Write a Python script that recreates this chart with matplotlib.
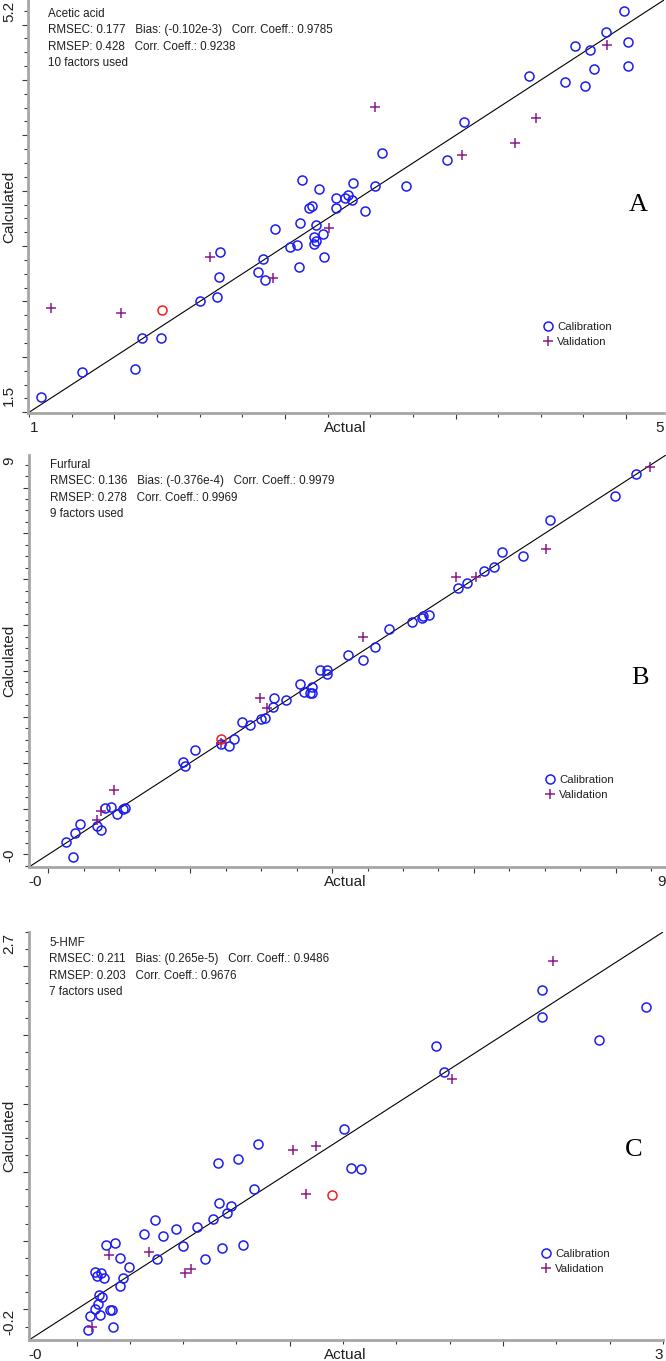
import matplotlib
matplotlib.use('Agg')
import matplotlib.pyplot as plt
from matplotlib.ticker import MultipleLocator

plt.rcParams['font.family'] = ['Liberation Sans', 'DejaVu Sans']

# ---- data ----
acetic_cal_x = [1.57, 1.81, 2.12, 2.16, 2.27, 2.50, 2.60, 2.61, 2.62, 2.84, 2.87, 2.88, 2.94,
                3.03, 3.07, 3.08, 3.09, 3.10, 3.14, 3.16, 3.17, 3.17, 3.18, 3.18, 3.20, 3.22,
                3.23, 3.30, 3.30, 3.35, 3.37, 3.39, 3.40, 3.47, 3.53, 3.57, 3.71, 3.95, 4.05,
                4.43, 4.64, 4.70, 4.76, 4.79, 4.81, 4.88, 4.99, 5.01, 5.01]
acetic_cal_y = [1.64, 1.86, 1.89, 2.17, 2.17, 2.50, 2.54, 2.72, 2.95, 2.77, 2.88, 2.69, 3.15,
                2.99, 3.01, 2.81, 3.21, 3.60, 3.34, 3.36, 3.08, 3.02, 3.05, 3.19, 3.52, 3.11,
                2.90, 3.43, 3.34, 3.43, 3.46, 3.42, 3.57, 3.32, 3.54, 3.84, 3.54, 3.78, 4.12,
                4.54, 4.48, 4.81, 4.45, 4.77, 4.60, 4.93, 5.12, 4.84, 4.63]
acetic_val_x = [1.63, 2.04, 2.56, 2.93, 3.26, 3.53, 4.04, 4.35, 4.47, 4.89]
acetic_val_y = [2.44, 2.40, 2.90, 2.71, 3.16, 4.26, 3.82, 3.93, 4.16, 4.82]
acetic_mark_x = [2.28]
acetic_mark_y = [2.42]

furfural_cal_x = [0.24, 0.35, 0.37, 0.45, 0.69, 0.74, 0.79, 0.88, 0.96, 1.05, 1.08, 1.90, 1.92,
                  2.07, 2.43, 2.55, 2.61, 2.73, 2.84, 3.00, 3.06, 3.18, 3.17, 3.35, 3.55, 3.60,
                  3.69, 3.72, 3.72, 3.83, 3.93, 3.93, 4.23, 4.43, 4.60, 4.80, 5.13, 5.27, 5.28,
                  5.37, 5.78, 5.90, 6.14, 6.29, 6.39, 6.70, 7.08, 7.99, 8.29]
furfural_cal_y = [0.26, -0.06, 0.47, 0.67, 0.62, 0.54, 1.01, 1.04, 0.88, 0.99, 1.01, 2.01, 1.93,
                  2.28, 2.41, 2.37, 2.51, 2.89, 2.82, 2.96, 2.98, 3.40, 3.22, 3.37, 3.71, 3.55,
                  3.52, 3.66, 3.53, 4.03, 4.03, 3.94, 4.34, 4.25, 4.52, 4.92, 5.06, 5.16, 5.19,
                  5.21, 5.81, 5.92, 6.17, 6.27, 6.60, 6.51, 7.29, 7.81, 8.30]
furfural_val_x = [0.69, 0.74, 0.93, 2.44, 2.99, 3.08, 4.44, 5.75, 6.03, 7.02, 8.49]
furfural_val_y = [0.74, 0.94, 1.40, 2.44, 3.42, 3.20, 4.75, 6.06, 6.05, 6.67, 8.45]
furfural_mark_x = [2.43]
furfural_mark_y = [2.52]

hmf_cal_x = [0.054, 0.064, 0.088, 0.100, 0.110, 0.104, 0.120, 0.158, 0.168, 0.172, 0.088, 0.098,
             0.116, 0.128, 0.140, 0.180, 0.204, 0.204, 0.218, 0.244, 0.318, 0.370, 0.376, 0.404,
             0.466, 0.498, 0.564, 0.604, 0.640, 0.664, 0.668, 0.684, 0.706, 0.724, 0.756, 0.782,
             0.830, 0.850, 1.252, 1.288, 1.334, 1.686, 1.724, 2.182, 2.182, 2.448, 2.670]
hmf_cal_y = [-0.153, -0.049, 0.005, 0.036, -0.044, 0.102, 0.090, -0.002, -0.002, -0.129, 0.273,
             0.243, 0.265, 0.229, 0.467, 0.482, 0.375, 0.170, 0.231, 0.311, 0.552, 0.655, 0.367,
             0.533, 0.584, 0.462, 0.599, 0.367, 0.662, 1.068, 0.776, 0.448, 0.703, 0.757, 1.095,
             0.472, 0.878, 1.207, 1.316, 1.032, 1.024, 1.917, 1.732, 2.326, 2.134, 1.966, 2.200]
hmf_val_x = [0.074, 0.150, 0.340, 0.510, 0.536, 1.014, 1.076, 1.122, 1.762, 2.234]
hmf_val_y = [-0.129, 0.394, 0.418, 0.265, 0.292, 1.158, 0.839, 1.192, 1.679, 2.538]
hmf_mark_x = [1.20]
hmf_mark_y = [0.83]

acetic_info = ["Acetic acid",
               "RMSEC: 0.177   Bias: (-0.102e-3)   Corr. Coeff.: 0.9785",
               "RMSEP: 0.428   Corr. Coeff.: 0.9238",
               "10 factors used"]
furfural_info = ["Furfural",
                 "RMSEC: 0.136   Bias: (-0.376e-4)   Corr. Coeff.: 0.9979",
                 "RMSEP: 0.278   Corr. Coeff.: 0.9969",
                 "9 factors used"]
hmf_info = ["5-HMF",
            "RMSEC: 0.211   Bias: (0.265e-5)   Corr. Coeff.: 0.9486",
            "RMSEP: 0.203   Corr. Coeff.: 0.9676",
            "7 factors used"]

W, H = 666, 1361
BLUE = '#1c1cf0'
PURPLE = '#8a1a8a'
RED = '#f02020'
TXT = '#202020'

fig = plt.figure(figsize=(W / 100, H / 100), dpi=100)


def fx(px):
    return px / W


def fy(py):
    return 1 - py / H


panels = [
    dict(box=(28, 0, 664, 413), lim=(1.493, 5.222), xt=(1, 0.25), yt=(0.5, 0.125),
         cal=(acetic_cal_x, acetic_cal_y), val=(acetic_val_x, acetic_val_y),
         mark=(acetic_mark_x, acetic_mark_y), info=acetic_info, info_at=(48, 14),
         xl=("1", "5"), yl=("5.2", "1.5"), letter="A", letter_at=(638, 205),
         leg_at=(542, 322)),
    dict(box=(29, 455, 666, 867), lim=(-0.275, 8.71), xt=(2, 0.5), yt=(1, 0.25),
         cal=(furfural_cal_x, furfural_cal_y), val=(furfural_val_x, furfural_val_y),
         mark=(furfural_mark_x, furfural_mark_y), info=furfural_info, info_at=(50, 465),
         xl=("-0", "9"), yl=("9", "-0"), letter="B", letter_at=(640, 678),
         leg_at=(544, 775)),
    dict(box=(29, 932, 663, 1340), lim=(-0.223, 2.75), xt=(1, 0.25), yt=(0.5, 0.125),
         cal=(hmf_cal_x, hmf_cal_y), val=(hmf_val_x, hmf_val_y),
         mark=(hmf_mark_x, hmf_mark_y), info=hmf_info, info_at=(49, 943),
         xl=("-0", "3"), yl=("2.7", "-0.2"), letter="C", letter_at=(634, 1150),
         leg_at=(540, 1249)),
]

for p in panels:
    l, t, r, b = p['box']
    ax = fig.add_axes([fx(l), fy(b), (r - l) / W, (b - t) / H])
    lim = p['lim']
    ax.plot(lim, lim, color='black', lw=0.8, zorder=1)
    cal, = ax.plot(*p['cal'], linestyle='none', marker='o', mfc='none', mec=BLUE,
                   mew=1.1, ms=6.5, label='Calibration', zorder=3)
    val, = ax.plot(*p['val'], linestyle='none', marker='+', color=PURPLE,
                   mew=1.1, ms=7, label='Validation', zorder=3)
    ax.plot(*p['mark'], linestyle='none', marker='o', mfc='none', mec=RED,
            mew=1.1, ms=6.5, zorder=3)
    ax.set_xlim(lim)
    ax.set_ylim(lim)

    for s in ('top', 'right'):
        ax.spines[s].set_visible(False)
    for s in ('left', 'bottom'):
        ax.spines[s].set_color('#a6a6a6')
        ax.spines[s].set_linewidth(2.0)

    ax.xaxis.set_major_locator(MultipleLocator(p['xt'][0]))
    ax.xaxis.set_minor_locator(MultipleLocator(p['xt'][1]))
    ax.yaxis.set_major_locator(MultipleLocator(p['yt'][0]))
    ax.yaxis.set_minor_locator(MultipleLocator(p['yt'][1]))
    ax.tick_params(which='both', direction='out', labelbottom=False, labelleft=False,
                   color='#383838', width=0.8)
    ax.tick_params(which='major', length=4.5)
    ax.tick_params(which='minor', length=2.8)

    ax.legend(handles=[cal, val], loc='upper left', bbox_to_anchor=(fx(p['leg_at'][0]), fy(p['leg_at'][1])),
              bbox_transform=fig.transFigure, frameon=False, fontsize=8.2, handlelength=1.0,
              handletextpad=0.35, borderpad=0, borderaxespad=0, labelspacing=0.42,
              labelcolor=TXT)

    # stats block
    ix, iy = p['info_at']
    for i, line in enumerate(p['info']):
        fig.text(fx(ix), fy(iy + i * 16.3), line, ha='left', va='center', fontsize=8.4, color=TXT)

    # end labels and axis titles
    fig.text(fx(l + 6), fy(b + 15), p['xl'][0], ha='center', va='center', fontsize=11, color=TXT)
    fig.text(fx(r - 4), fy(b + 15), p['xl'][1], ha='center', va='center', fontsize=11, color=TXT)
    fig.text(fx(345), fy(b + 15), "Actual", ha='center', va='center', fontsize=11, color=TXT)
    top_len = 11 if len(p['yl'][0]) > 1 else 6
    bot_len = 18 if len(p['yl'][1]) > 2 else (12 if len(p['yl'][1]) > 1 else 6)
    fig.text(fx(9), fy(t + top_len), p['yl'][0], ha='center', va='center', rotation=90,
             fontsize=11, color=TXT)
    fig.text(fx(9), fy(b - bot_len), p['yl'][1], ha='center', va='center', rotation=90,
             fontsize=11, color=TXT)
    fig.text(fx(9), fy((t + b) / 2), "Calculated", ha='center', va='center', rotation=90,
             fontsize=11, color=TXT)

    fig.text(fx(p['letter_at'][0]), fy(p['letter_at'][1]), p['letter'], ha='center', va='center',
             fontsize=19, family='Liberation Serif', color='black')

fig.savefig('out.png', dpi=100, facecolor='white')
